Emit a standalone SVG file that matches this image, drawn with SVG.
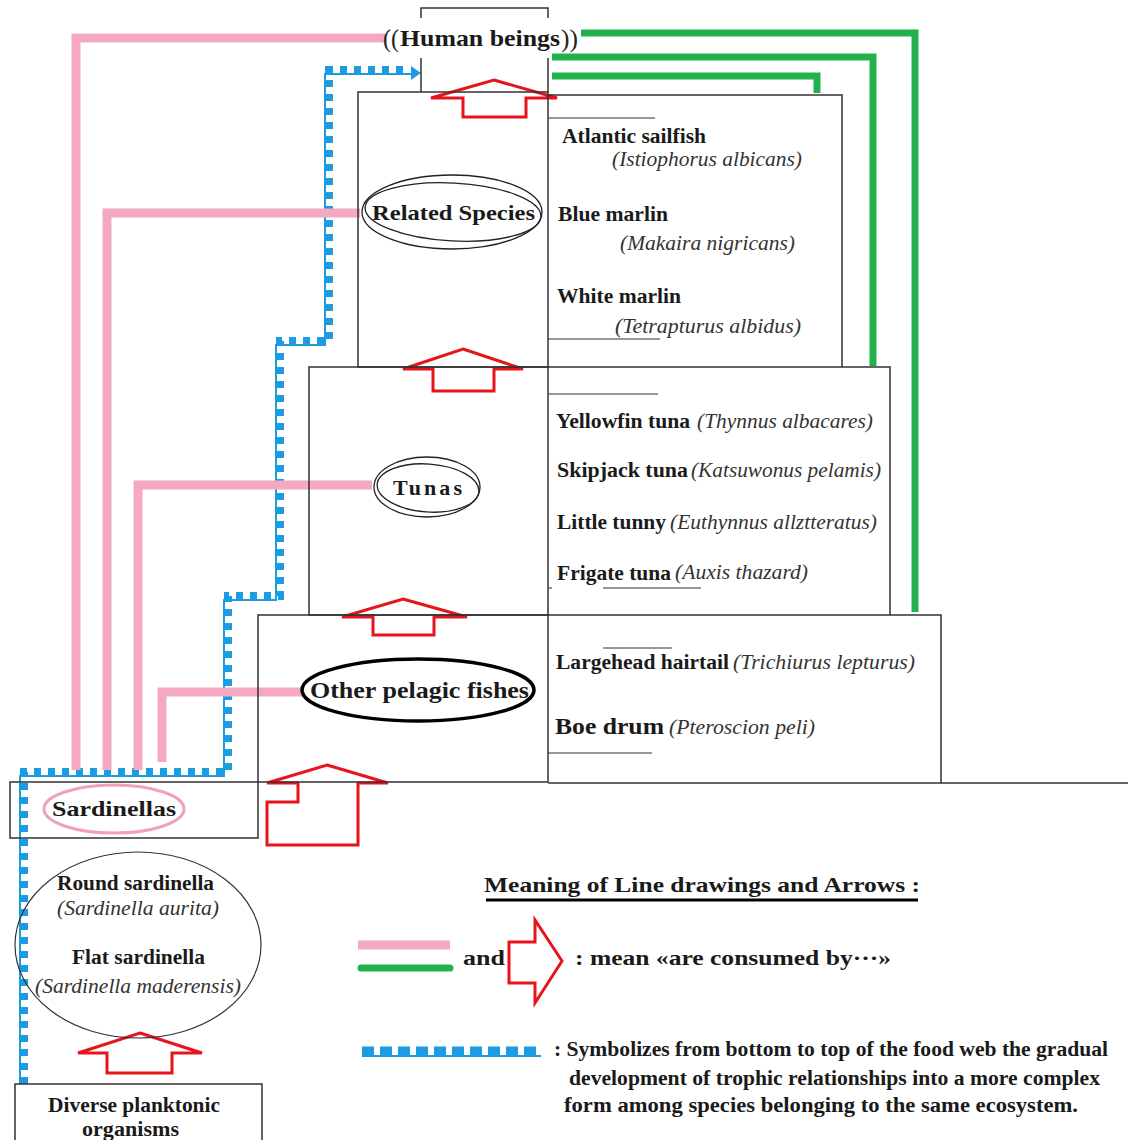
<svg xmlns="http://www.w3.org/2000/svg" width="1128" height="1140" viewBox="0 0 1128 1140">
<style>
.box{fill:none;stroke:#333;stroke-width:1.5}
.thin{fill:none;stroke:#333;stroke-width:1.2}
.b{font-family:"Liberation Serif",serif;font-weight:bold;fill:#1a1a1a}
.i{font-family:"Liberation Serif",serif;font-style:italic;fill:#333}
.n{font-family:"Liberation Serif",serif;fill:#222}
.pink{fill:none;stroke:#f5a8c2;stroke-width:9;stroke-linejoin:miter}
.green{fill:none;stroke:#22b14c;stroke-width:7;stroke-linejoin:miter}
.blueLine{fill:none;stroke:#1b9ce2;stroke-width:2}
.blueDash{fill:none;stroke:#1b9ce2;stroke-width:8;stroke-dasharray:7 7}
.arrow{fill:none;stroke:#e8141c;stroke-width:3;stroke-linejoin:miter}
</style>
<rect width="1128" height="1140" fill="#fff"/>

<g id="connectors">
  <path class="blueLine" d="M20 1084 V776 H224 V600 H276 V345 H325 V74 H412"/>
  <path class="blueDash" d="M24 1084 V772 H228 V596 H280 V341 H329 V70 H410"/>
  <polygon points="411,66 421,73 411,80" fill="#1b9ce2"/>
  <path class="pink" d="M76 770 V38 H386"/>
  <path class="pink" d="M107 770 V213 H360"/>
  <path class="pink" d="M138 770 V485 H372"/>
  <path class="pink" d="M162 762 V692 H303"/>
  <path class="green" d="M581 33 H915 V612"/>
  <path class="green" d="M552 57 H873 V366"/>
  <path class="green" d="M552 76 H817 V93"/>
  <polygon class="arrow" points="494,80 557,98 526,98 526,117 463,117 463,98 431,98"/>
  <polygon class="arrow" points="463,349 523,369 494,369 494,391 433,391 433,369 403,369"/>
  <polygon class="arrow" points="403,599 467,617 434,617 434,635 373,635 373,617 342,617"/>
  <polygon class="arrow" points="327,765 388,783 358,783 358,845 267,845 267,802 298,802 298,783 267,783"/>
  <polygon class="arrow" points="140,1033 202,1053 172,1053 172,1073 107,1073 107,1053 78,1053"/>
</g>

<g id="human-beings">
  <path class="box" d="M421 18 V8 H548 V18 M421 58 V92 M548 58 V92"/>
  <text class="n" x="383" y="47" font-size="26" textLength="16" lengthAdjust="spacingAndGlyphs">((</text>
  <text class="b" x="400" y="46" font-size="24" textLength="160" lengthAdjust="spacingAndGlyphs">Human beings</text>
  <text class="n" x="561" y="47" font-size="26" textLength="17" lengthAdjust="spacingAndGlyphs">))</text>
</g>

<g id="related-species">
  <rect class="box" x="358" y="92" width="190" height="275"/>
  <path class="box" d="M548 95 H842 V367"/>
  <path class="thin" d="M548 118 H655 M548 339 H660"/>
  <ellipse cx="452" cy="212" rx="90" ry="37" fill="none" stroke="#222" stroke-width="1.3"/>
  <ellipse cx="453" cy="212" rx="88" ry="29" fill="none" stroke="#222" stroke-width="1.3" transform="rotate(3 453 212)"/>
  <text class="b" x="372" y="220" font-size="22" textLength="163" lengthAdjust="spacingAndGlyphs">Related Species</text>
  <text class="b" x="562" y="143" font-size="20" textLength="144" lengthAdjust="spacingAndGlyphs">Atlantic sailfish</text>
  <text class="i" x="612" y="166" font-size="21" textLength="190" lengthAdjust="spacingAndGlyphs">(Istiophorus albicans)</text>
  <text class="b" x="558" y="221" font-size="20" textLength="110" lengthAdjust="spacingAndGlyphs">Blue marlin</text>
  <text class="i" x="620" y="250" font-size="21" textLength="175" lengthAdjust="spacingAndGlyphs">(Makaira nigricans)</text>
  <text class="b" x="557" y="303" font-size="20" textLength="124" lengthAdjust="spacingAndGlyphs">White marlin</text>
  <text class="i" x="615" y="333" font-size="21" textLength="186" lengthAdjust="spacingAndGlyphs">(Tetrapturus albidus)</text>
</g>

<g id="tunas">
  <rect class="box" x="309" y="367" width="239" height="248"/>
  <path class="box" d="M548 367 H890 V615"/>
  <path class="thin" d="M548 394 H658 M603 588 H701 M548 588 H552"/>
  <ellipse cx="427" cy="487" rx="53" ry="30" fill="none" stroke="#222" stroke-width="1.3"/>
  <ellipse cx="428" cy="488" rx="51" ry="24" fill="none" stroke="#222" stroke-width="1.3" transform="rotate(4 428 488)"/>
  <text class="b" x="393" y="495" font-size="22" textLength="69" lengthAdjust="spacing">Tunas</text>
  <text class="b" x="556" y="428" font-size="20" textLength="134" lengthAdjust="spacingAndGlyphs">Yellowfin tuna</text>
  <text class="i" x="697" y="428" font-size="21" textLength="176" lengthAdjust="spacingAndGlyphs">(Thynnus albacares)</text>
  <text class="b" x="557" y="477" font-size="20" textLength="131" lengthAdjust="spacingAndGlyphs">Skipjack tuna</text>
  <text class="i" x="691" y="477" font-size="21" textLength="190" lengthAdjust="spacingAndGlyphs">(Katsuwonus pelamis)</text>
  <text class="b" x="557" y="529" font-size="20" textLength="109" lengthAdjust="spacingAndGlyphs">Little tunny</text>
  <text class="i" x="670" y="529" font-size="21" textLength="207" lengthAdjust="spacingAndGlyphs">(Euthynnus allztteratus)</text>
  <text class="b" x="557" y="580" font-size="20" textLength="114" lengthAdjust="spacingAndGlyphs">Frigate tuna</text>
  <text class="i" x="675" y="579" font-size="21" textLength="133" lengthAdjust="spacingAndGlyphs">(Auxis thazard)</text>
</g>

<g id="other-pelagic-fishes">
  <rect class="box" x="258" y="615" width="290" height="167"/>
  <path class="box" d="M548 615 H941 V783 M548 783 H1128"/>
  <path class="thin" d="M603 648 H672 M548 753 H652"/>
  <ellipse cx="418" cy="690" rx="116" ry="31" fill="none" stroke="#000" stroke-width="3.5"/>
  <text class="b" x="310" y="698" font-size="23" textLength="219" lengthAdjust="spacingAndGlyphs">Other pelagic fishes</text>
  <text class="b" x="556" y="669" font-size="20" textLength="173" lengthAdjust="spacingAndGlyphs">Largehead hairtail</text>
  <text class="i" x="733" y="669" font-size="21" textLength="182" lengthAdjust="spacingAndGlyphs">(Trichiurus lepturus)</text>
  <text class="b" x="555" y="734" font-size="24" textLength="109" lengthAdjust="spacingAndGlyphs">Boe drum</text>
  <text class="i" x="669" y="734" font-size="20" textLength="146" lengthAdjust="spacingAndGlyphs">(Pteroscion peli)</text>
</g>

<g id="sardinellas">
  <rect class="box" x="10" y="782" width="248" height="56"/>
  <ellipse cx="114" cy="809" rx="70" ry="24" fill="none" stroke="#f0a0bd" stroke-width="3"/>
  <text class="b" x="52" y="816" font-size="22" textLength="124" lengthAdjust="spacingAndGlyphs">Sardinellas</text>
</g>

<g id="sardinella-species">
  <ellipse cx="138" cy="945" rx="123" ry="93" fill="none" stroke="#333" stroke-width="1.2"/>
  <text class="b" x="57" y="890" font-size="20" textLength="157" lengthAdjust="spacingAndGlyphs">Round sardinella</text>
  <text class="i" x="57" y="915" font-size="21" textLength="162" lengthAdjust="spacingAndGlyphs">(Sardinella aurita)</text>
  <text class="b" x="72" y="964" font-size="20" textLength="133" lengthAdjust="spacingAndGlyphs">Flat sardinella</text>
  <text class="i" x="35" y="993" font-size="21" textLength="206" lengthAdjust="spacingAndGlyphs">(Sardinella maderensis)</text>
</g>

<g id="plankton">
  <path class="box" d="M15 1140 V1084 H262 V1140"/>
  <text class="b" x="48" y="1112" font-size="20" textLength="172" lengthAdjust="spacingAndGlyphs">Diverse planktonic</text>
  <text class="b" x="82" y="1136" font-size="20" textLength="97" lengthAdjust="spacingAndGlyphs">organisms</text>
</g>

<g id="legend">
  <text class="b" x="484" y="892" font-size="22" textLength="436" lengthAdjust="spacingAndGlyphs">Meaning of Line drawings and Arrows :</text>
  <line x1="486" y1="900" x2="918" y2="900" stroke="#000" stroke-width="3"/>
  <line x1="358" y1="945" x2="450" y2="945" stroke="#f5a8c2" stroke-width="9"/>
  <line x1="361" y1="968" x2="450" y2="968" stroke="#22b14c" stroke-width="7" stroke-linecap="round"/>
  <text class="b" x="463" y="965" font-size="22" textLength="42" lengthAdjust="spacingAndGlyphs">and</text>
  <polygon class="arrow" points="509,942 535,942 535,920 562,961 535,1003 535,983 509,983"/>
  <text class="b" x="575" y="965" font-size="22" textLength="316" lengthAdjust="spacingAndGlyphs">: mean «are consumed by···»</text>
  <line x1="362" y1="1056" x2="541" y2="1056" stroke="#1b9ce2" stroke-width="2"/>
  <line x1="362" y1="1051" x2="541" y2="1051" stroke="#1b9ce2" stroke-width="9" stroke-dasharray="12 6"/>
  <text class="b" x="554" y="1056" font-size="20" textLength="554" lengthAdjust="spacingAndGlyphs">: Symbolizes from bottom to top of the food web the gradual</text>
  <text class="b" x="569" y="1085" font-size="20" textLength="531" lengthAdjust="spacingAndGlyphs">development of trophic relationships into a more complex</text>
  <text class="b" x="564" y="1112" font-size="20" textLength="514" lengthAdjust="spacingAndGlyphs">form among species belonging to the same ecosystem.</text>
</g>
</svg>
